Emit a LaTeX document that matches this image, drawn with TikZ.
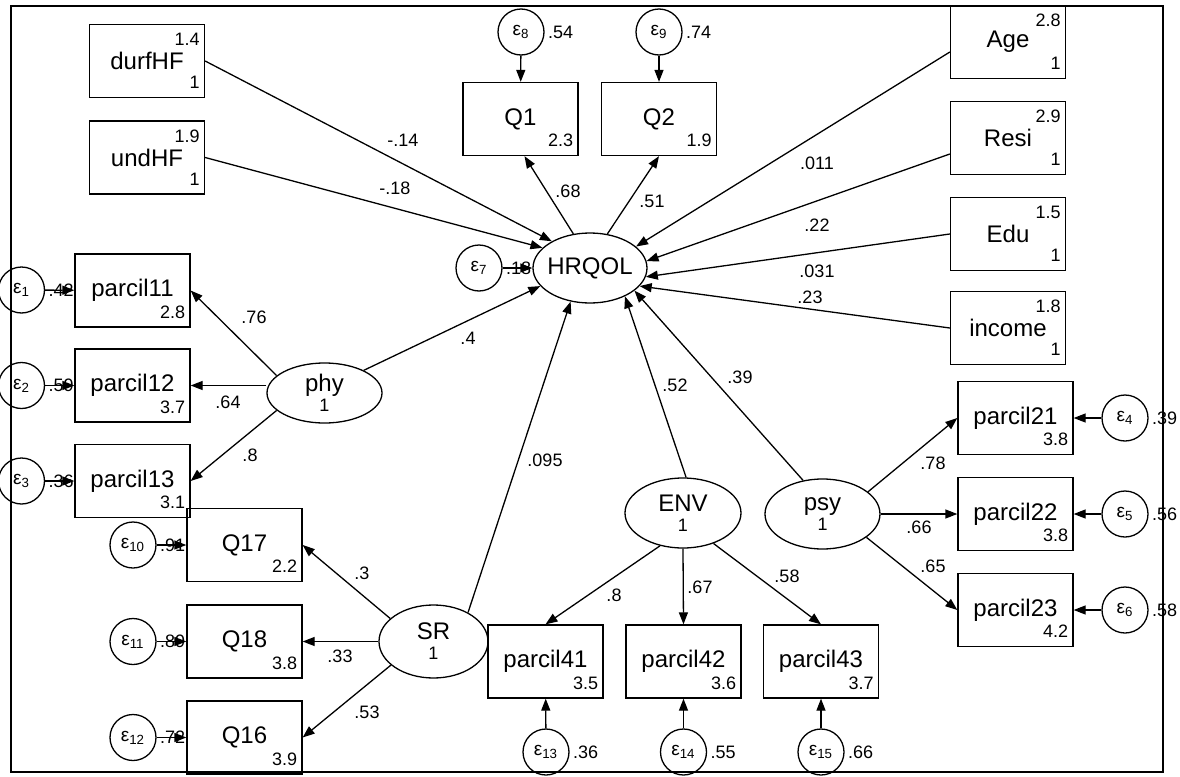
\documentclass[tikz,border=0pt]{standalone}
\usepackage{fontspec}
\setmainfont{Liberation Sans}
\usetikzlibrary{shapes.geometric,arrows.meta,positioning}

\newcommand{\errlab}[1]{ε\textsubscript{#1}}

\begin{document}
\begin{tikzpicture}[x=0.5pt, y=-0.5pt,
        obs/.style={draw, line width=0.65pt, minimum width=57.5pt, minimum height=36.5pt,
                    inner sep=0pt, font=\fontsize{12}{14}\selectfont},
        latent/.style={draw, ellipse, line width=0.65pt, inner sep=0pt, align=center,
                       minimum width=57.5pt, minimum height=35pt, font=\fontsize{12}{14}\selectfont},
        err/.style={draw, circle, line width=0.65pt, inner sep=0pt, minimum size=23pt,
                    font=\fontsize{9.5}{10}\selectfont},
        num/.style={font=\fontsize{9}{10}\selectfont, inner xsep=2.5pt, inner ysep=4.5pt},
        upnum/.style={label={[num, anchor=north east]north east:#1}},
        lownum/.style={label={[num, anchor=south east]south east:#1}},
        evar/.style={label={[num, inner sep=1.5pt]east:#1}},
        coef/.style={font=\fontsize{9}{10}\selectfont, inner sep=0pt},
        reg/.style={-{Triangle[length=6pt,width=4.5pt]}, line width=0.65pt},
    ]
        \useasboundingbox (0,0) rectangle (1180,777);
        \draw[line width=0.8pt] (11,6) rectangle (1163,772);

        % exogenous observed
        \node[obs, upnum=1.4, lownum=1] (durfHF) at (147,61)    {durfHF};
        \node[obs, upnum=1.9, lownum=1] (undHF)  at (147,157.5) {undHF};
        \node[obs, upnum=2.8, lownum=1] (Age)    at (1008,42)   {Age};
        \node[obs, upnum=2.9, lownum=1] (Resi)   at (1008,138)  {Resi};
        \node[obs, upnum=1.5, lownum=1] (Edu)    at (1008,234)  {Edu};
        \node[obs, upnum=1.8, lownum=1] (income) at (1008,328)  {income};

        % indicators
        \node[obs, lownum=2.3] (Q1)       at (520.5,119)   {Q1};
        \node[obs, lownum=1.9] (Q2)       at (659,119)     {Q2};
        \node[obs, lownum=2.8] (parcil11) at (132.5,290.5) {parcil11};
        \node[obs, lownum=3.7] (parcil12) at (132.5,385.5) {parcil12};
        \node[obs, lownum=3.1] (parcil13) at (132.5,481)   {parcil13};
        \node[obs, lownum=2.2] (Q17)      at (244.5,545)   {Q17};
        \node[obs, lownum=3.8] (Q18)      at (244.5,641.5) {Q18};
        \node[obs, lownum=3.9] (Q16)      at (244.5,737.5) {Q16};
        \node[obs, lownum=3.5] (parcil41) at (545.5,661.5) {parcil41};
        \node[obs, lownum=3.6] (parcil42) at (683.5,661.5) {parcil42};
        \node[obs, lownum=3.7] (parcil43) at (821,661.5)   {parcil43};
        \node[obs, lownum=3.8] (parcil21) at (1015.5,418)  {parcil21};
        \node[obs, lownum=3.8] (parcil22) at (1015.5,514)  {parcil22};
        \node[obs, lownum=4.2] (parcil23) at (1015.5,610)  {parcil23};

        % latent
        \node[latent, minimum width=57pt] (HRQOL) at (590,268) {\makebox[0pt]{HRQOL}};
        \node[latent, minimum height=30pt] (phy) at (324.5,393)
            {phy\\[-4pt]{\fontsize{9}{10}\selectfont 1}};
        \node[latent, minimum width=54.5pt, minimum height=36.5pt] (SR) at (433.5,641.5)
            {SR\\[-4pt]{\fontsize{9}{10}\selectfont 1}};
        \node[latent, minimum width=58pt] (ENV) at (683,513)
            {ENV\\[-4pt]{\fontsize{9}{10}\selectfont 1}};
        \node[latent] (psy) at (822.5,514)
            {psy\\[-4pt]{\fontsize{9}{10}\selectfont 1}};

        % errors
        \node[err, evar=.42] (e1)  at (21.5,290)  {\errlab{1}};
        \node[err, evar=.59] (e2)  at (21.5,385.5){\errlab{2}};
        \node[err, evar=.36] (e3)  at (21.5,481)  {\errlab{3}};
        \node[err, evar=.39] (e4)  at (1125,418)  {\errlab{4}};
        \node[err, evar=.56] (e5)  at (1125,514)  {\errlab{5}};
        \node[err, evar=.58] (e6)  at (1125,610)  {\errlab{6}};
        \node[err, evar=.18] (e7)  at (479,268)   {\errlab{7}};
        \node[err, evar=.54] (e8)  at (521,32)    {\errlab{8}};
        \node[err, evar=.74] (e9)  at (659,32)    {\errlab{9}};
        \node[err, evar=.91] (e10) at (133,545)   {\errlab{10}};
        \node[err, evar=.89] (e11) at (133,641.5) {\errlab{11}};
        \node[err, evar=.72] (e12) at (133,737.5) {\errlab{12}};
        \node[err, evar=.36] (e13) at (546,752)   {\errlab{13}};
        \node[err, evar=.55] (e14) at (683.5,752) {\errlab{14}};
        \node[err, evar=.66] (e15) at (821,752)   {\errlab{15}};

        \foreach \e/\v in {e1/parcil11, e2/parcil12, e3/parcil13, e4/parcil21, e5/parcil22,
                           e6/parcil23, e7/HRQOL, e8/Q1, e9/Q2, e10/Q17, e11/Q18, e12/Q16,
                           e13/parcil41, e14/parcil42, e15/parcil43}
            \draw[reg] (\e) -- (\v);

        % structural paths
        \draw[reg] (durfHF.east) -- (HRQOL.145);
        \draw[reg] (undHF.east) -- (HRQOL.157);
        \draw[reg] ([yshift=-5pt]Age.west) -- (HRQOL.25);
        \draw[reg] ([yshift=-8pt]Resi.west) -- (HRQOL.7);
        \draw[reg] (Edu.west) -- (HRQOL.-9);
        \draw[reg] (income.west) -- (HRQOL.-20);
        \draw[reg] (phy.30) -- (HRQOL.200);
        \draw[reg] (SR.40) -- (HRQOL.240);
        \draw[reg] (ENV.85) -- (HRQOL.321);
        \draw[reg] (psy.120) -- (HRQOL.-27);

        % loadings
        \draw[reg] (HRQOL.116) -- ([xshift=2pt]Q1.south);
        \draw[reg] (HRQOL.63) -- (Q2.south);
        \draw[reg] (phy.160) -- (parcil11.east);
        \draw[reg] (parcil12.east -| phy.west) -- (parcil12.east);
        \draw[reg] (phy.200) -- (parcil13.east);
        \draw[reg] (SR.152) -- (Q17.east);
        \draw[reg] (SR.west) -- (Q18.east);
        \draw[reg] (SR.209) -- (Q16.east);
        \draw[reg] (ENV.235) -- (parcil41.north);
        \draw[reg] (ENV.south) -- (parcil42.north);
        \draw[reg] (ENV.315) -- (parcil43.north);
        \draw[reg] (psy.26) -- (parcil21.west);
        \draw[reg] (psy.east) -- (parcil22.west);
        \draw[reg] (psy.332) -- (parcil23.west);

        % coefficients
        \foreach \x/\y/\t [count=\i] in {403/140/-.14, 395/188/-.18, 568/191/.68, 652/201/.51,
                817/163/.011, 817/225/.22, 817/271/.031, 810/297/.23, 468/338/.4,
                545/460/.095, 675/385/.52, 740/377/.39, 254/317/.76, 228/402/.64,
                250/455/.8, 362/573/.3, 340/656/.33, 367/712/.53, 614/595/.8,
                700/587/.67, 787/576/.58, 933/463/.78, 919/527/.66, 933/566/.65}
            \node[coef] (c\i) at (\x,\y) {\t};
    \end{tikzpicture}
\end{document}
